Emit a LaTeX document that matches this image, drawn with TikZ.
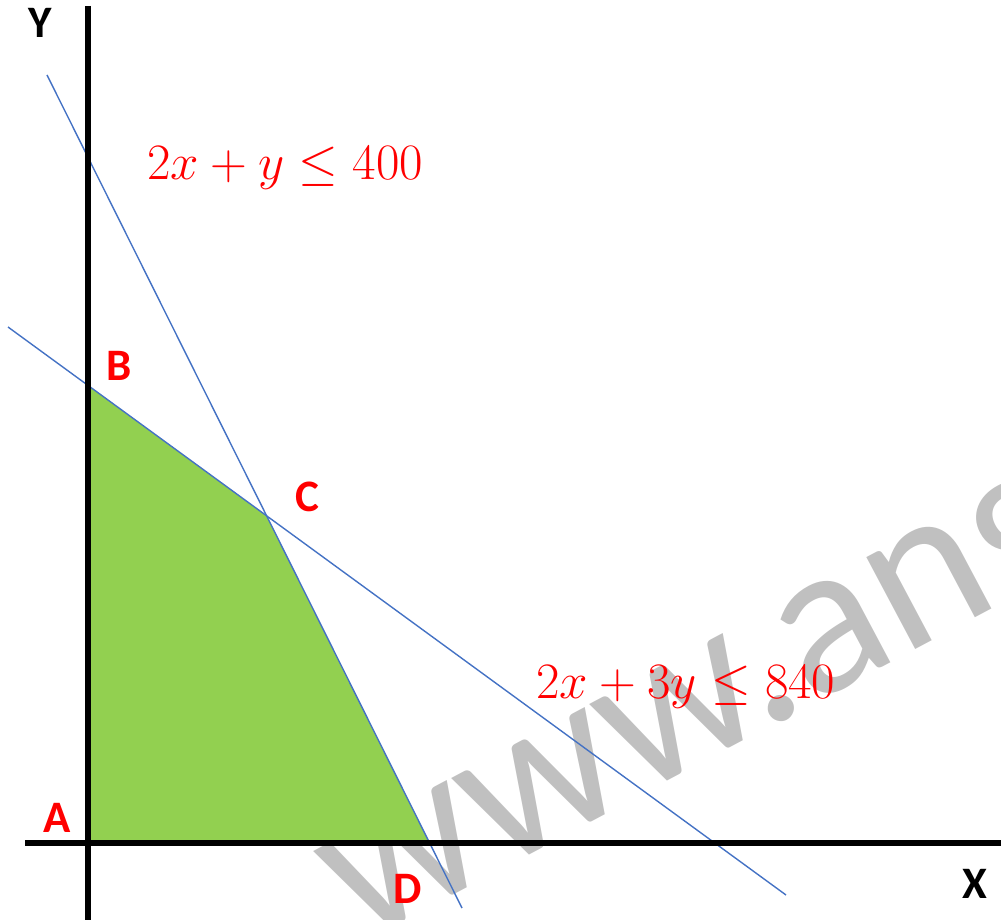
\documentclass[tikz,border=0pt]{standalone}
\usepackage{fontspec}
\newfontfamily\labfont{Carlito}
\definecolor{regiongreen}{RGB}{146,208,80}
\definecolor{lineblue}{RGB}{68,114,196}
\definecolor{wmgray}{RGB}{192,192,192}
\tikzset{
  axisline/.style={line width=5.5pt, black, line cap=butt},
  constraint/.style={line width=1.4pt, lineblue},
  ptlabel/.style={inner sep=0pt, text=red, font=\labfont\bfseries\fontsize{45}{54}\selectfont},
  axlabel/.style={inner sep=0pt, text=black, font=\labfont\bfseries\fontsize{45}{54}\selectfont},
  eqlabel/.style={inner sep=0pt, anchor=base west, text=red, font=\Huge, scale=2.05},
  watermark/.style={inner sep=0pt, anchor=base west, text=wmgray, rotate=28, font=\labfont\fontsize{218}{250}\selectfont}
}
\begin{document}
\begin{tikzpicture}[x=1pt,y=-1pt]
\useasboundingbox (0,0) rectangle (1001,920);
\begin{scope}
\clip (0,0) rectangle (1001,920);
\node[watermark] (wm) at (360,945) {www.ang};
\end{scope}
% corner points
\coordinate (A) at (88,843);
\coordinate (B) at (88,385.4);
\coordinate (C) at (266.6,515.8);
\coordinate (D) at (429.6,843);
% line ends
\coordinate (l1s) at (47,75);
\coordinate (l1e) at (462,908);
\coordinate (l2s) at (8,327);
\coordinate (l2e) at (786,895);
% axis ends
\coordinate (ytop) at (88,6);
\coordinate (ybot) at (88,920);
\coordinate (xleft) at (25,843);
\coordinate (xright) at (1001,843);
% feasible region
\fill[regiongreen] (A) -- (B) -- (C) -- (D) -- cycle;
% constraint lines
\draw[constraint] (l1s) -- (l1e);
\draw[constraint] (l2s) -- (l2e);
% axes
\draw[axisline] (ytop) -- (ybot);
\draw[axisline] (xleft) -- (xright);
% labels
\node[axlabel] (ylab) at (40.5,23) {Y};
\node[axlabel] (xlab) at (975,884) {X};
\node[ptlabel] (Alab) at (57,818) {A};
\node[ptlabel] (Blab) at (119,366) {B};
\node[ptlabel] (Clab) at (307,497) {C};
\node[ptlabel] (Dlab) at (408,889) {D};
\node[eqlabel] (eq1) at (147,180) {$2x+y\leq 400$};
\node[eqlabel] (eq2) at (536,698) {$2x+3y\leq 840$};
\end{tikzpicture}
\end{document}
